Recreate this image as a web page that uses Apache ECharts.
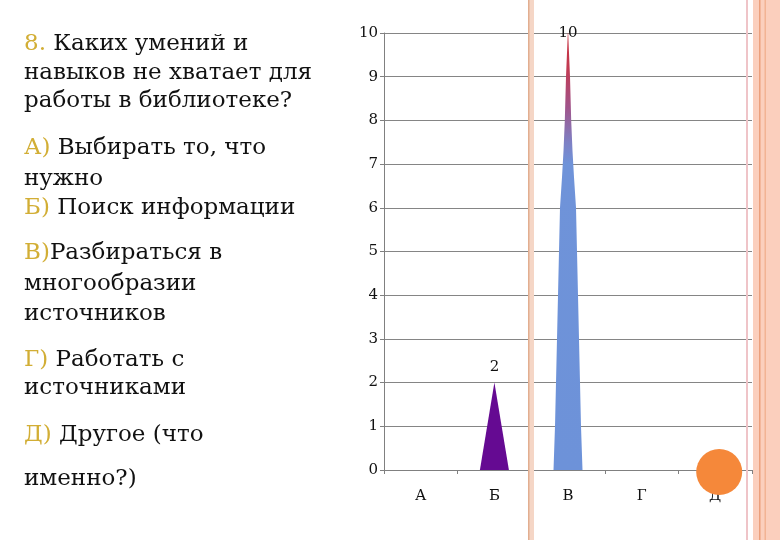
<!DOCTYPE html>
<html>
<head>
    <meta charset="utf-8">
    <title>8. Каких умений и навыков не хватает</title>
    <script type="text/javascript" src="https://cdn.jsdelivr.net/npm/echarts@6/dist/echarts.min.js"></script>
    <style type="text/css">
        html, body { margin: 0; padding: 0; background: #fff; }
        #chart { width: 780px; height: 540px; }
    </style>
</head>
<body>
<div id="chart"></div>
<script type="text/javascript">
    // данные
    const categories = ['А', 'Б', 'В', 'Г', 'Д'];
    const counts = [0, 2, 10, 0, 0];
    const yTicks = [0, 1, 2, 3, 4, 5, 6, 7, 8, 9, 10];

    // текст вопроса: [префикс, текст]
    const questionLines = [
        ['8.', ' Каких умений и'],
        ['', 'навыков не хватает для'],
        ['', 'работы в библиотеке?'],
        ['А)', ' Выбирать то, что'],
        ['', 'нужно'],
        ['Б)', ' Поиск информации'],
        ['В)', 'Разбираться в'],
        ['', 'многообразии'],
        ['', 'источников'],
        ['Г)', ' Работать с'],
        ['', 'источниками'],
        ['Д)', ' Другое (что'],
        ['', 'именно?)']
    ];
    const lineY = [44, 73, 101, 148, 179, 208, 253, 284, 314, 360, 388, 435, 479];

    const serif = '"DejaVu Serif", "Liberation Serif", serif';
    const gold = '#d2ae35';

    // формы маркеров
    const triangle = 'path://M0,100 L14.5,0 L29,100 Z';
    const spike = 'path://M0,100 L1.5,90 L2.5,80 L3.5,70 L4.5,60 L5.5,50 L6.5,40 L8.5,33 L10,27 L11.3,20 L12.5,10 L13.6,4 L14.3,0 L14.7,0 L15.4,4 L16.5,10 L17.7,20 L19,27 L20.5,33 L22.5,40 L23.5,50 L24.5,60 L25.5,70 L26.5,80 L27.5,90 L29,100 Z';

    const spikeColor = new echarts.graphic.LinearGradient(0, 0, 0, 1, [
        {offset: 0, color: '#c8303f'},
        {offset: 0.08, color: '#c23a52'},
        {offset: 0.17, color: '#a0548a'},
        {offset: 0.25, color: '#7e80c4'},
        {offset: 0.3, color: '#6f93d9'},
        {offset: 1, color: '#6d92d9'}
    ]);

    const barStyle = {
        'Б': {symbol: triangle, color: '#650a92', dist: 8},
        'В': {symbol: spike, color: spikeColor, dist: -8}
    };

    let barData = categories.map(function (c, i) {
        let st = barStyle[c];
        if (!st || !counts[i]) {
            return {value: counts[i], symbol: 'none', label: {show: false}};
        }
        return {
            value: counts[i],
            symbol: st.symbol,
            itemStyle: {color: st.color},
            label: {show: true, position: 'top', distance: st.dist}
        };
    });

    let dotData = categories.map(function (c, i) {
        return c === 'Д' ? counts[i] : '-';
    });

    let textEls = questionLines.map(function (ln, i) {
        return {
            type: 'text',
            x: 24,
            y: lineY[i],
            style: {
                text: (ln[0] ? '{p|' + ln[0] + '}' : '') + '{t|' + ln[1] + '}',
                verticalAlign: 'middle',
                rich: {
                    p: {fill: gold, fontSize: 23, fontFamily: serif},
                    t: {fill: '#111', fontSize: 23, fontFamily: serif}
                }
            }
        };
    });

    // декоративные полосы слайда
    let decor = [
        {type: 'rect', shape: {x: 528, y: 0, width: 6, height: 540}, style: {fill: '#f5d6c6'}, z: 5},
        {type: 'rect', shape: {x: 528, y: 0, width: 1.5, height: 540}, style: {fill: '#e2ae90'}, z: 5},
        {type: 'rect', shape: {x: 746, y: 0, width: 2, height: 540}, style: {fill: '#efc4c8'}, z: 5},
        {type: 'rect', shape: {x: 753, y: 0, width: 27, height: 540}, style: {fill: '#fbcfbd'}, z: 5},
        {type: 'rect', shape: {x: 759, y: 0, width: 1.5, height: 540}, style: {fill: '#eba07c'}, z: 6},
        {type: 'rect', shape: {x: 764.5, y: 0, width: 1.5, height: 540}, style: {fill: '#f2b394'}, z: 6}
    ];

    let chart = echarts.init(document.getElementById('chart'), null, {renderer: 'canvas'});
    chart.setOption({
        animation: false,
        backgroundColor: '#ffffff',
        grid: {left: 384, right: 28, top: 33, bottom: 70},
        graphic: textEls.concat(decor),
        xAxis: {
            type: 'category',
            data: categories,
            boundaryGap: true,
            axisLine: {lineStyle: {color: '#808080', width: 1}},
            axisTick: {show: true, length: 4, lineStyle: {color: '#808080'}},
            axisLabel: {margin: 19, color: '#111', fontSize: 15, fontFamily: serif}
        },
        yAxis: {
            type: 'value',
            min: yTicks[0],
            max: yTicks[yTicks.length - 1],
            interval: 1,
            axisLine: {show: true, lineStyle: {color: '#808080'}},
            axisTick: {show: true, length: 4, lineStyle: {color: '#808080'}},
            axisLabel: {margin: 6, color: '#111', fontSize: 15, fontFamily: serif},
            splitLine: {lineStyle: {color: '#858585', width: 1}}
        },
        series: [
            {
                type: 'pictorialBar',
                data: barData,
                symbolSize: [29, '100%'],
                symbolPosition: 'start',
                barCategoryGap: '0%',
                label: {color: '#111', fontSize: 15, fontFamily: serif},
                z: 3
            },
            {
                type: 'scatter',
                data: dotData,
                symbol: 'circle',
                symbolSize: 46,
                symbolOffset: [4, 2],
                itemStyle: {color: '#f5883a', opacity: 1},
                z: 4
            }
        ]
    });
</script>
</body>
</html>
